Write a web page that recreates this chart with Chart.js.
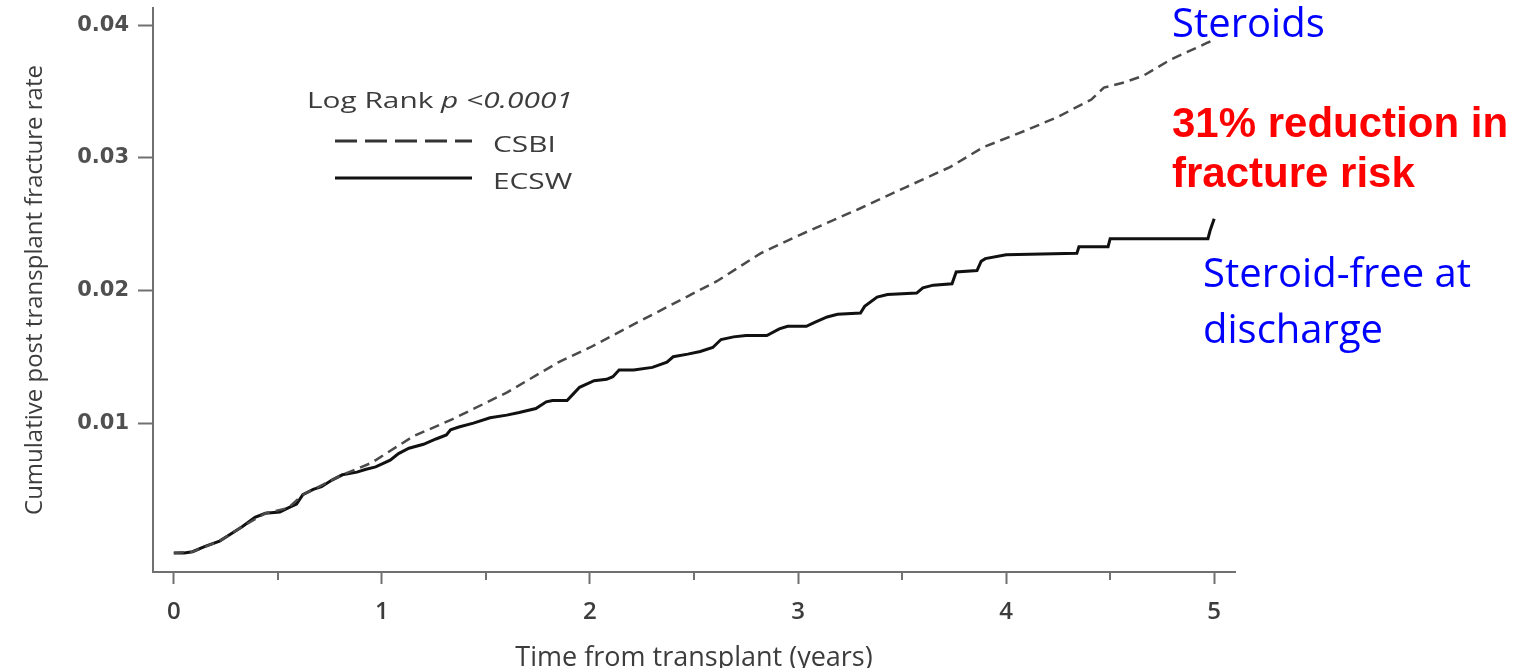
<!DOCTYPE html>
<html><head><meta charset="utf-8">
<script src="https://cdn.jsdelivr.net/npm/chart.js@4.4.0/dist/chart.umd.min.js"></script>
<style>
html,body{margin:0;padding:0;background:#fff;overflow:hidden}
canvas{display:block}
</style></head><body>
<canvas id="c" width="1517" height="668"></canvas>
<script>
// ---- data ----
const csbiTime = [0.00,0.09,0.22,0.33,0.44,0.55,0.62,0.71,0.81,0.95,1.15,1.34,1.60,1.85,2.00,2.24,2.34,2.61,2.82,3.01,3.30,3.52,3.73,3.89,4.10,4.25,4.41,4.47,4.57,4.66,4.79,4.97,5.00];
const csbiRate = [0.0002,0.0003,0.0011,0.0022,0.0032,0.0036,0.0046,0.0053,0.0061,0.0070,0.0090,0.0103,0.0123,0.0146,0.0157,0.0177,0.0185,0.0207,0.0228,0.0242,0.0262,0.0278,0.0293,0.0308,0.0321,0.0331,0.0344,0.0353,0.0357,0.0362,0.0374,0.0387,0.0389];

const ecswTime = [0.00,0.05,0.09,0.15,0.22,0.27,0.33,0.39,0.44,0.51,0.55,0.59,0.62,0.67,0.71,0.76,0.81,0.88,0.92,0.97,1.04,1.08,1.13,1.20,1.26,1.31,1.33,1.37,1.44,1.52,1.60,1.66,1.74,1.79,1.82,1.89,1.92,1.95,2.02,2.08,2.11,2.14,2.21,2.30,2.37,2.40,2.47,2.53,2.59,2.63,2.69,2.75,2.85,2.91,2.95,3.04,3.08,3.14,3.19,3.30,3.32,3.38,3.43,3.57,3.60,3.65,3.74,3.76,3.86,3.88,3.90,4.00,4.34,4.35,4.49,4.50,4.97,4.98,5.00];
const ecswRate = [0.0002,0.0002,0.0003,0.0007,0.0011,0.0016,0.0022,0.0029,0.0032,0.0033,0.0036,0.0039,0.0046,0.0050,0.0052,0.0057,0.0061,0.0063,0.0065,0.0067,0.0072,0.0077,0.0081,0.0084,0.0088,0.0091,0.0095,0.0097,0.0100,0.0104,0.0106,0.0108,0.0111,0.0116,0.0117,0.0117,0.0122,0.0127,0.0132,0.0133,0.0135,0.0140,0.0140,0.0142,0.0146,0.0150,0.0152,0.0154,0.0157,0.0163,0.0165,0.0166,0.0166,0.0171,0.0173,0.0173,0.0176,0.0180,0.0182,0.0183,0.0188,0.0195,0.0197,0.0198,0.0202,0.0204,0.0205,0.0214,0.0215,0.0222,0.0224,0.0227,0.0228,0.0233,0.0233,0.0239,0.0239,0.0245,0.0254];

const seriesNames = ['CSBI','ECSW'];
const xTickValues = [0,1,2,3,4,5];
const xMinorTickValues = [0.5,1.5,2.5,3.5,4.5];
const yTickValues = [0.01,0.02,0.03,0.04];
const xAxisTitle = 'Time from transplant (years)';
const yAxisTitle = 'Cumulative post transplant fracture rate';
const legendHeading = ['Log Rank ', 'p <0.0001'];
const notes = [
  {text:'Steroids', color:'#0000ff', font:'40px "Open Sans"', x:1172, y:37},
  {text:'31% reduction in', color:'#ff0000', font:'bold 42px "Liberation Sans"', x:1172, y:137},
  {text:'fracture risk', color:'#ff0000', font:'bold 42px "Liberation Sans"', x:1172, y:187},
  {text:'Steroid-free at', color:'#0000ff', font:'40px "Open Sans"', x:1203, y:287},
  {text:'discharge', color:'#0000ff', font:'40px "Open Sans"', x:1203, y:343}
];

const toPoints = (ts, vs) => ts.map((t, i) => ({x: t, y: vs[i]}));
const AXIS = '#707070';

const minorTicks = {
  id: 'minorTicks',
  afterDraw(chart) {
    const c = chart.ctx, xs = chart.scales.x, b = chart.chartArea.bottom;
    c.save();
    c.strokeStyle = AXIS; c.lineWidth = 2;
    xMinorTickValues.forEach(v => {
      const px = Math.round(xs.getPixelForValue(v));
      c.beginPath(); c.moveTo(px, b); c.lineTo(px, b + 8); c.stroke();
    });
    c.restore();
  }
};

const legendAndNotes = {
  id: 'legendAndNotes',
  afterDraw(chart) {
    const c = chart.ctx;
    const ds = chart.data.datasets;
    c.save();
    c.fillStyle = '#3c3c3c';
    c.textBaseline = 'alphabetic';
    c.save();
    c.translate(307, 108); c.scale(1.42, 1);
    c.font = '21px "Open Sans"';
    c.fillText(legendHeading[0], 0, 0);
    const w = c.measureText(legendHeading[0]).width;
    c.font = 'italic 21px "Open Sans"';
    c.fillText(legendHeading[1], w, 0);
    c.restore();
    const rows = [141, 178];
    ds.forEach((d, i) => {
      c.save();
      c.strokeStyle = i === 0 ? '#333' : d.borderColor;
      c.lineWidth = 3;
      c.setLineDash(i === 0 ? [22, 8] : []);
      c.beginPath(); c.moveTo(335, rows[i]); c.lineTo(472, rows[i]); c.stroke();
      c.restore();
      c.save();
      c.fillStyle = '#3c3c3c';
      c.translate(493, rows[i] + 11); c.scale(1.42, 1);
      c.font = '21px "Open Sans"';
      c.fillText(d.label, 0, 0);
      c.restore();
    });
    notes.forEach(n => {
      c.font = n.font; c.fillStyle = n.color;
      c.fillText(n.text, n.x, n.y);
    });
    c.restore();
  }
};

new Chart(document.getElementById('c').getContext('2d'), {
  type: 'line',
  data: {
    datasets: [
      {label: seriesNames[0], data: toPoints(csbiTime, csbiRate), borderColor: '#4a4a4a', borderWidth: 2.5,
       borderDash: [10, 6], pointRadius: 0, fill: false, tension: 0},
      {label: seriesNames[1], data: toPoints(ecswTime, ecswRate), borderColor: '#111', borderWidth: 3,
       pointRadius: 0, fill: false, tension: 0}
    ]
  },
  options: {
    responsive: false, animation: false, devicePixelRatio: 1,
    layout: {padding: {left: 0, right: 282, top: 8, bottom: 0}},
    plugins: {legend: {display: false}, tooltip: {enabled: false}},
    scales: {
      x: {
        type: 'linear', min: -0.1, max: 5.1,
        afterBuildTicks: s => { s.ticks = xTickValues.map(v => ({value: v})); },
        afterFit: s => { s.height = 96; s.paddingLeft = 0; s.paddingRight = 0; },
        border: {display: true, color: AXIS, width: 2},
        grid: {display: true, drawOnChartArea: false, drawTicks: true, tickLength: 12, tickColor: AXIS, tickWidth: 2},
        ticks: {color: '#3c3c3c', font: {family: 'Open Sans', size: 24, weight: '600'}, padding: 14,
                maxRotation: 0, autoSkip: false, callback: v => String(v)},
        title: {display: true, text: xAxisTitle, color: '#3c3c3c',
                font: {family: 'Open Sans', size: 27, lineHeight: 1}, padding: {top: 0, bottom: -4}}
      },
      y: {
        type: 'linear', min: -0.00123, max: 0.0413,
        afterBuildTicks: s => { s.ticks = yTickValues.map(v => ({value: v})); },
        afterFit: s => { s.width = 153; s.paddingTop = 0; s.paddingBottom = 0; },
        border: {display: true, color: AXIS, width: 2},
        grid: {display: true, drawOnChartArea: false, drawTicks: true, tickLength: 15, tickColor: AXIS, tickWidth: 2},
        ticks: {color: '#505050', font: {family: 'DejaVu Sans', size: 21, weight: 'bold'}, padding: 9,
                callback: v => Number(v).toFixed(2)},
        title: {display: true, text: yAxisTitle, color: '#3c3c3c',
                font: {family: 'Open Sans', size: 24, lineHeight: 1}, padding: {top: 23, bottom: 0}}
      }
    }
  },
  plugins: [minorTicks, legendAndNotes]
});
</script>
</body></html>
